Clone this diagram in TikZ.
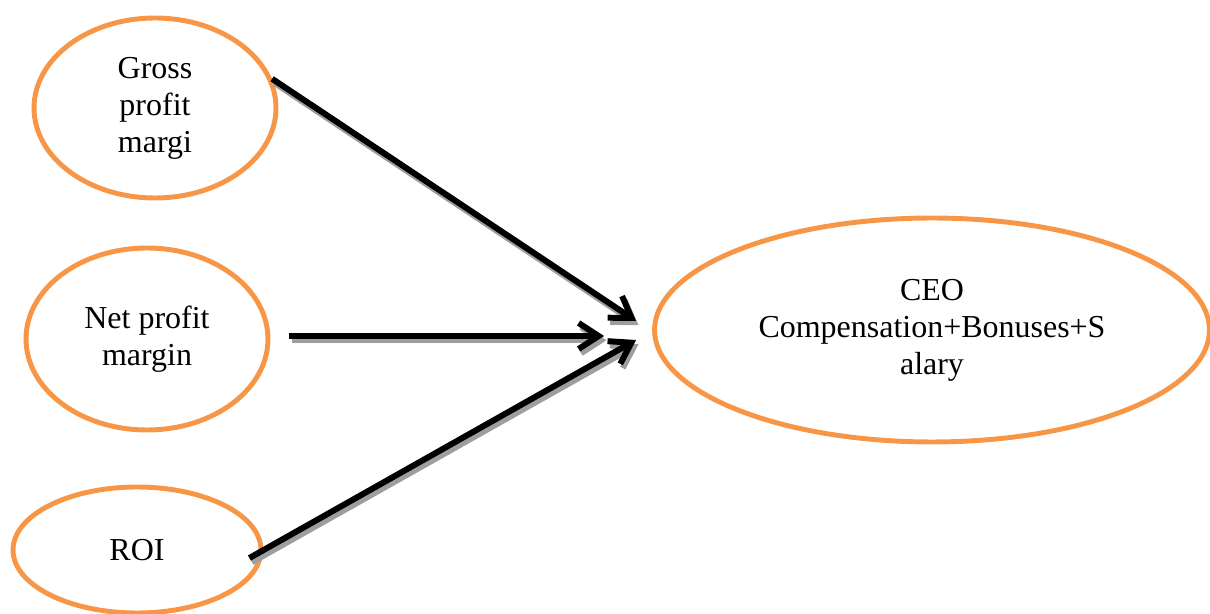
\documentclass[tikz,border=0pt]{standalone}
\usepackage{fontspec}
\setmainfont{Liberation Serif}
\usetikzlibrary{shapes.geometric,arrows.meta}
\definecolor{accentorange}{HTML}{F79646}

\begin{document}
\begin{tikzpicture}[x=0.02cm,y=-0.02cm,
		oval/.style={ellipse,draw=accentorange,line width=2.8pt,inner sep=0pt,
			align=center,font=\fontsize{18.2}{21}\selectfont},
		link/.style={line width=3.4pt,-{Straight Barb[length=4mm,width=5.2mm]}},
		linkshadow/.style={link,draw=black!38,transform canvas={shift={(1.4pt,-2.4pt)}}}]
	\useasboundingbox (0,0) rectangle (1210,614);
	\node[oval,minimum width=4.84cm,minimum height=3.6cm] (gross) at (155,108) {Gross\\profit\\margi};
	\node[oval,minimum width=4.84cm,minimum height=3.64cm] (net) at (147,339) {Net profit\\margin};
	\node[oval,minimum width=4.96cm,minimum height=2.52cm] (roi) at (137,550) {ROI};
	\node[oval,minimum width=11.1cm,minimum height=4.48cm] (ceo) at (932,330)
		{CEO\\Compensation+Bonuses+S\\alary};
	% tips stop short of the outcome oval
	\coordinate (tipA) at ([shift={(-16,-9)}]ceo.west);
	\coordinate (tipB) at ([shift={(-48,6)}]ceo.west);
	\coordinate (tipC) at ([shift={(-16,10)}]ceo.west);
	\foreach \lk in {linkshadow,link}
	{\draw[\lk] (gross.14) -- (tipA);
		\draw[\lk] ([shift={(19,-3)}]net.east) -- (tipB);
		\draw[\lk] ([shift={(-14,8)}]roi.east) -- (tipC);}
\end{tikzpicture}
\end{document}
